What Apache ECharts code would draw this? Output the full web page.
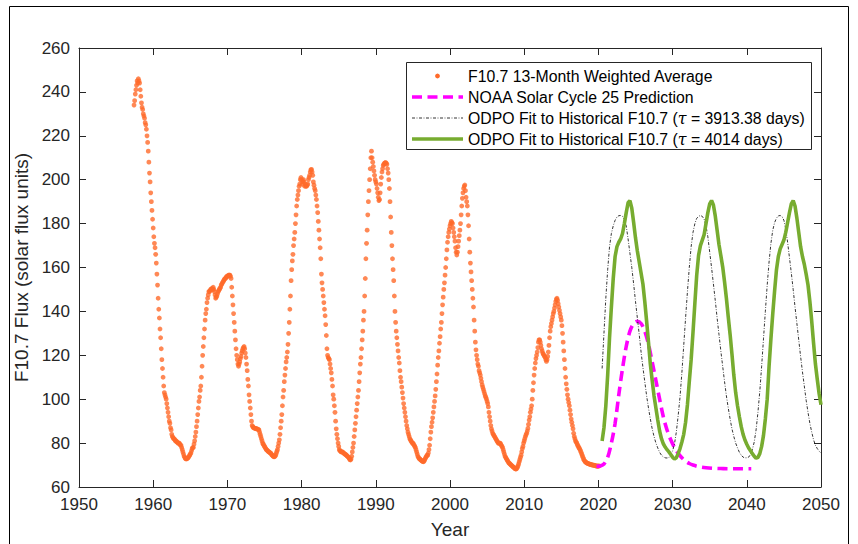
<!DOCTYPE html>
<html><head><meta charset="utf-8">
<script src="https://cdn.jsdelivr.net/npm/echarts/dist/echarts.min.js"></script>
<style>html,body{margin:0;padding:0;background:#fff}#chart{width:858px;height:544px}</style>
</head><body><div id="chart"></div>
<script>
// ---------------- DATA ----------------
// F10.7 13-month weighted average, monthly values starting June 1957
const fluxStartYear = 1957;
const fluxStartMonth = 6; // June
const flux = [
  234,236,239,241,243,245,244,
  246,245,244,241,238,235,233,232,230,229,228,226,
  225,223,220,217,213,208,203,199,194,190,186,182,
  178,174,171,169,166,162,157,152,146,141,137,132,
  128,123,118,114,110,106,103,102,101,100,98,96,
  94,92,90,89,87,86,84,83,82.5,82,82,81.5,
  81,81,80.5,80.5,80,80,80,79.5,79,79,78,77,
  76,75,74,73.5,73,72.8,72.8,73,73.2,73.5,74,74.5,
  75,75.5,76.5,77.5,78,78,79.5,81,83,85,87.5,90,
  93,96,99,101,104,106,110,115,120,124,128,132,
  136,139,141,144,146,147.5,149,149,149.5,150,150,150.5,
  150,151,150,149,147.5,146,146.5,147,148,149,149.5,150,
  150.5,151,152,152.5,153,153.5,154,154.5,155,155,155.5,156,
  156,156,156.5,156.5,156.5,156,155,151,147,143,139,135,
  131,127,123,120,118,116,115,116,117,118.5,119.5,121,
  122,123,123.5,124,123,121,119,116,113,109,106,102,
  99,96,93,90,88,87.5,87,87,86.8,86.7,86.6,86.5,
  86.5,86.3,86.2,86,85,84,83,82,81,80,79.5,79,
  78.5,78,77.5,77,76.8,76.5,76.2,76,75.8,75.6,75.4,75,
  74.6,74.3,74,73.8,73.8,74,74.5,75.3,76.2,77,78.5,80,
  81.5,84,87,90,93,97,101,104,108,111,114,117,
  119,121.5,125,130,135,141,147,154,159,163,166,170,
  173,176,180,184,188,191,193,195,197,198,200,201,
  200,198,199,200,199,197,198,197,197,197.5,198,200,
  201,202,203.5,204.5,204.7,203.5,202,199,197.5,196,195,193,
  191,188,185,181,177,173,169,164,157,153,150,147,
  144,141,138,134,129,123,120,119,118.5,118,116,114,
  112,109,106,102,100,97,94,90,86.5,84,82,80,
  78.5,77,76.5,76.3,76,76,76,75.7,75.5,75.2,75,74.8,
  74.6,74.3,74,73.8,73.5,73,72.5,72.3,72.8,74,76,78,
  80,83,86,89,92,95,98,101,104,108,112,116,
  119,123,127,131,136,140,147,155,164,171,177,184,
  190,195,200,205,210,213,210,208,206,204,202,200,
  199,198,196,194,192,190.5,191,194,198,201,203.5,205,
  206.5,207,207.5,207.7,207.8,207.5,207,205,203,200,196,190,
  183,176,170,164,159,154,147,140,135,131,128,125,
  122,119,116.5,113,110,108,105.5,103,100.5,98,96,94,
  92,90,88,86.5,85,84,83,82,81.5,81,80.5,80,
  80,79.5,79,78.5,78,77,76,75,74,73.5,73,72.8,
  72.5,72.3,72,71.8,71.6,71.5,71.8,72.3,73,73.5,74,74.5,
  74.5,75.5,77,79,82,85,87.5,89.5,91.5,94,96.5,99,
  101.5,104.5,108,111.5,115.5,119,122,125.5,128.5,132,135,139,
  143,146.5,150,153,156.5,160,164,168,171.5,174,176,177.5,
  179,180,181,180.5,180,178,176,174,172,169,167,165.7,
  167,169.5,172,174.5,177,180,184,188,191.5,194,196,197,
  197.6,195,192,190,188,184,179,173,167,162,158,154,
  150,146,142,136,131,126,122.5,120,118,116,115,113,
  112,111,109.5,108,106.5,105.5,104.5,103.5,102.5,101.5,100.8,100,
  99,98,96.5,94,92,90,88,86.5,85.5,84.5,84,83.5,
  83,82.5,82,81.5,81,80.5,80,80,80,80,79.5,79,
  78.5,78,77,76,75,74,73.5,73,72.5,72,71.5,71,
  70.8,70.5,70.2,70,69.7,69.4,69.2,69,68.7,68.4,68.2,68.2,
  68.5,69,69.7,70.5,71.5,72.5,73.5,74.5,76,77.5,78.5,80,
  81,82,83,83.8,84.5,85.5,86.7,88.5,90.5,92,94,95.5,
  97,100,104,107.5,111,114,116.5,118.5,120,121.5,123.5,126,
  127,127,126,124.5,123,122,121,120.5,120,119.5,119,118,
  117.2,118,119.5,121.5,124.5,128,131,133,134.5,136,137.5,139,
  140,141.5,143,144.5,145.5,146,145,143.5,142,140.5,139,137.5,
  136,133.5,130,126,122,118,114,110,107,104.5,102,100,
  98.5,97,95,93,91,89.5,88,86.5,84.5,83,82,81,
  80.5,80,79.3,78.7,78.2,77.7,77.2,76.5,75.8,75,74.3,73.5,
  72.8,72.2,71.8,71.4,71.2,71,70.8,70.7,70.6,70.5,70.4,70.3,
  70.2,70.1,70.1,70,70,69.9,69.8,69.7,69.6,69.6,69.5,69.5,
  69.5,69.6
];

// NOAA Solar Cycle 25 prediction
const noaaYears = [2019.75,2020.25,2020.75,2021.25,2021.75,2022.25,2022.75,2023.25,2023.75,2024.25,2024.75,2025.25,2025.75,2026.25,2026.75,2027.25,2027.75,2028.25,2028.75,2029.25,2029.75,2030.25,2030.75,2031.25,2031.75,2032.25,2032.75,2033.5,2034.5,2035.5,2036.5,2037.5,2038.5,2039.5,2040.6];
const noaaValues = [69.4,69.6,70.5,73.5,80,89,102,114,124,131,134.5,135.5,134.5,131,125,117,108.5,100,92,86,81.5,78,75.3,73.3,71.8,70.7,70,69.3,68.8,68.5,68.4,68.3,68.3,68.3,68.3];

// ODPO fits, quarterly values from 2020.5 to 2050
const fitStartYear = 2020.5;
const fitStepYears = 0.25;
const fitTau3913 = [
  114,130,146,159,169.5,175.5,179,181.5,183,183.6,183.7,183.3,182,179,173,166.5,160,152.5,144.5,137,129.5,121.5,114.5,108,101.5,96,91,86.5,83,80,77.8,75.8,74.5,73.7,73.3,73.2,73.4,74.5,76.5,79.5,
  85,92.5,101,112,124.5,137,149,160,169.5,176,180,182.4,183.3,183.7,183.3,182,179,174,167,160,152.5,145,137,129.5,122,115,108,101.5,96,91,86.5,83,80,77.8,75.8,74.5,73.6,73.3,73.3,73.6,
  74.8,77,80.5,86,94,103.5,115,127.5,140,152,162.5,171,177,180.5,182.5,183.5,183.7,183.2,181.5,177.5,171.5,164.5,157.5,150,142,134.5,127,119.5,112.5,106,99.5,94,89,85,81.5,79,77.5,76.3,75.5
];
const fitTau4014 = [
  81,87,97,111,128,142,155,165,169.5,171.5,173,175.5,180,185,189.5,190.5,187,180.5,173.5,167.5,162.5,157.5,152.5,144.5,135.5,126,116,108.5,101.5,96,90.5,85.5,82,79.7,78.2,77,76,74.8,73.6,72.7,
  73.3,75.2,77.5,80.5,84,89.5,97.5,108,118,130.5,143.7,156.5,165.5,170,172.5,175,180,185,189,190.5,188.5,183.5,177,170.5,165.5,160.3,153.5,146,137.5,129.5,120.5,111,103,97,92,87.5,84,81.4,79.5,77.8,76.5,75.2,74,73.1,
  73.5,75.2,78.5,83.5,91,100,115,127.5,139,149.5,159,165,168.5,170.5,172.5,176,180.5,185,189,190.5,188,182.5,176,169.5,165,161.5,157,152,144.5,135.5,125.5,116,109,102.5,97.5
];

const seriesNames = [
  'F10.7 13-Month Weighted Average',
  'NOAA Solar Cycle 25 Prediction',
  'ODPO Fit to Historical F10.7 (τ = 3913.38 days)',
  'ODPO Fit to Historical F10.7 (τ = 4014 days)'
];
const xMin = 1950, xMax = 2050, xStep = 10;
const yMin = 60, yMax = 260, yStep = 20;
const xTitle = 'Year';
const yTitle = 'F10.7 Flux (solar flux units)';

// ---------------- BUILD ----------------
const fluxData = flux.map((v, i) => [fluxStartYear + (fluxStartMonth - 1 + i) / 12, v]);
const noaaData = noaaYears.map((y, i) => [y, noaaValues[i]]);
const fitA = fitTau3913.map((v, i) => [fitStartYear + i * fitStepYears, v]);
const fitB = fitTau4014.map((v, i) => [fitStartYear + i * fitStepYears, v]);

const FONT = '"Liberation Sans", Arial, Helvetica, sans-serif';
const AX = '#262626';
const ORANGE = '#FF6A2A', MAGENTA = '#FF00FF', GREEN = '#77AC30';
const BLACKDASH = [3, 1.6, 0.8, 1.6];

const chart = echarts.init(document.getElementById('chart'), null, {renderer: 'svg'});

const commonX = {type: 'value', min: xMin, max: xMax, interval: xStep,
  axisLine: {show: true, onZero: false, lineStyle: {color: AX, width: 1}},
  axisTick: {show: true, inside: true, length: 7, lineStyle: {color: AX}},
  splitLine: {show: false}};
const commonY = {type: 'value', min: yMin, max: yMax, interval: yStep,
  axisLine: {show: true, onZero: false, lineStyle: {color: AX, width: 1}},
  axisTick: {show: true, inside: true, length: 7, lineStyle: {color: AX}},
  splitLine: {show: false}};

const legendTop = 62, legendLeft = 406, legendW = 405, legendH = 87;
const rows = [76, 97, 118, 139];
const sx0 = 412, sx1 = 463, tx = 468;
const LF = 15.8;
function richLabel(prefix, suffix) {
  return {text: '{a|' + prefix + '}{b|τ}{a|' + suffix + '}',
    rich: {a: {fontSize: LF, fontFamily: FONT, fill: '#000', color: '#000'},
           b: {fontSize: LF, fontFamily: '"DejaVu Serif", "Liberation Serif", serif', fontStyle: 'italic', fill: '#000', color: '#000'}}};
}

const option = {
  animation: false,
  backgroundColor: '#fff',
  grid: {left: 79, right: 37, top: 48, bottom: 57, containLabel: false},
  xAxis: [
    Object.assign({}, commonX, {position: 'bottom', name: xTitle, nameLocation: 'middle', nameGap: 33,
      nameTextStyle: {fontFamily: FONT, fontSize: 19, color: AX},
      axisLabel: {show: true, margin: 9, fontFamily: FONT, fontSize: 17, color: AX, formatter: v => String(v)}}),
    Object.assign({}, commonX, {position: 'top', axisLabel: {show: false}})
  ],
  yAxis: [
    Object.assign({}, commonY, {position: 'left', name: yTitle, nameLocation: 'middle', nameGap: 39,
      nameTextStyle: {fontFamily: FONT, fontSize: 19, color: AX},
      axisLabel: {show: true, margin: 9, fontFamily: FONT, fontSize: 17, color: AX, formatter: v => String(v)}}),
    Object.assign({}, commonY, {position: 'right', axisLabel: {show: false}})
  ],
  series: [
    {name: seriesNames[0], type: 'scatter', data: fluxData, symbol: 'circle', symbolSize: 4.8,
      itemStyle: {color: ORANGE}, z: 2, xAxisIndex: 0, yAxisIndex: 0},
    {name: seriesNames[1], type: 'line', data: noaaData, showSymbol: false, smooth: 0.3,
      lineStyle: {color: MAGENTA, width: 3.6, type: [10, 5.5]}, z: 3},
    {name: seriesNames[2], type: 'line', data: fitA, showSymbol: false,
      lineStyle: {color: '#000', width: 0.8, type: BLACKDASH}, z: 4},
    {name: seriesNames[3], type: 'line', data: fitB, showSymbol: false,
      lineStyle: {color: GREEN, width: 3.6}, z: 5}
  ],
  graphic: [
    {type: 'rect', shape: {x: 9.5, y: 6.5, width: 839, height: 560}, style: {fill: 'none', stroke: '#000', lineWidth: 1}, silent: true, z: 0},
    {type: 'rect', shape: {x: legendLeft + 0.5, y: legendTop + 0.5, width: legendW, height: legendH},
      style: {fill: '#fff', stroke: AX, lineWidth: 1}, z: 10},
    {type: 'circle', shape: {cx: (sx0 + sx1) / 2, cy: rows[0], r: 2.4}, style: {fill: ORANGE}, z: 11},
    {type: 'line', shape: {x1: sx0, y1: rows[1], x2: sx1, y2: rows[1]}, style: {stroke: MAGENTA, lineWidth: 3.6, lineDash: [10, 5.5]}, z: 11},
    {type: 'line', shape: {x1: sx0, y1: rows[2], x2: sx1, y2: rows[2]}, style: {stroke: '#000', lineWidth: 0.8, lineDash: BLACKDASH}, z: 11},
    {type: 'line', shape: {x1: sx0, y1: rows[3], x2: sx1, y2: rows[3]}, style: {stroke: GREEN, lineWidth: 3.6}, z: 11},
    {type: 'text', x: tx, y: rows[0], style: {text: seriesNames[0], fontSize: LF, fontFamily: FONT, fill: '#000', verticalAlign: 'middle'}, z: 11},
    {type: 'text', x: tx, y: rows[1], style: {text: seriesNames[1], fontSize: LF, fontFamily: FONT, fill: '#000', verticalAlign: 'middle'}, z: 11},
    {type: 'text', x: tx, y: rows[2], style: Object.assign({verticalAlign: 'middle'}, richLabel('ODPO Fit to Historical F10.7 (', ' = 3913.38 days)')), z: 11},
    {type: 'text', x: tx, y: rows[3], style: Object.assign({verticalAlign: 'middle'}, richLabel('ODPO Fit to Historical F10.7 (', ' = 4014 days)')), z: 11}
  ]
};
chart.setOption(option);
</script>
</body></html>
